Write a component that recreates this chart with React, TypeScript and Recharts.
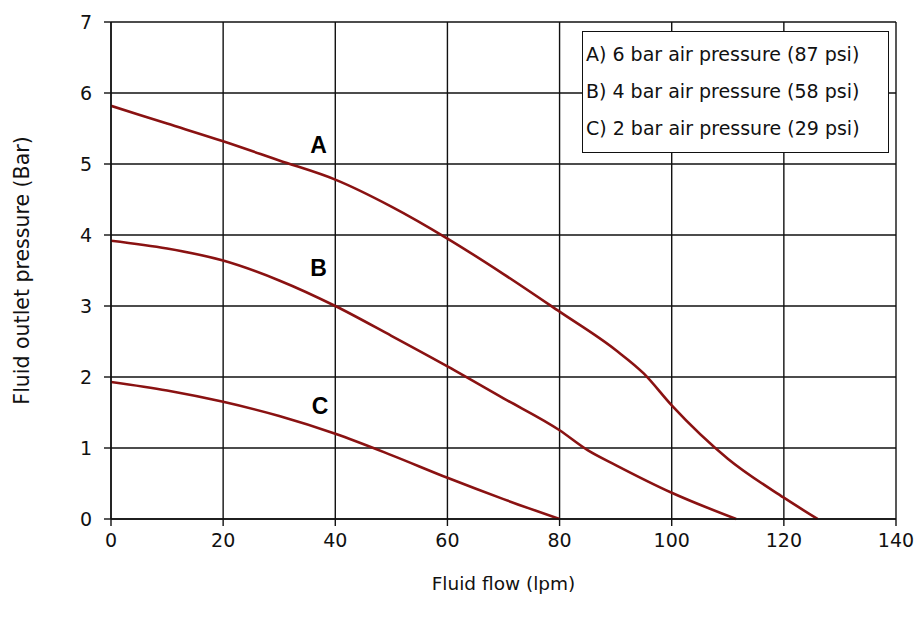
import { CartesianGrid, Line, LineChart, ReferenceDot, XAxis, YAxis } from "recharts";

const X_TICKS = [0, 20, 40, 60, 80, 100, 120, 140];
const Y_TICKS = [0, 1, 2, 3, 4, 5, 6, 7];

// curve A - 6 bar air pressure
const FLOW_A = [0, 10, 20, 30, 40, 50, 60, 70, 80, 90, 95, 100, 110, 120, 126];
const PRESS_A = [5.82, 5.57, 5.32, 5.05, 4.78, 4.4, 3.95, 3.45, 2.92, 2.38, 2.05, 1.6, 0.85, 0.3, 0];

// curve B - 4 bar air pressure
const FLOW_B = [0, 10, 20, 30, 40, 50, 60, 70, 80, 85, 90, 100, 111.5];
const PRESS_B = [3.92, 3.81, 3.64, 3.36, 3.0, 2.58, 2.15, 1.7, 1.25, 0.97, 0.76, 0.37, 0];

// curve C - 2 bar air pressure
const FLOW_C = [0, 10, 20, 30, 40, 50, 60, 70, 80];
const PRESS_C = [1.93, 1.81, 1.65, 1.45, 1.2, 0.9, 0.58, 0.28, 0];

const LEGEND_ITEMS = [
  "A) 6 bar air pressure (87 psi)",
  "B) 4 bar air pressure (58 psi)",
  "C) 2 bar air pressure (29 psi)",
];

const CURVE_LABELS = [
  { name: "A", x: 37, y: 5.27 },
  { name: "B", x: 37, y: 3.54 },
  { name: "C", x: 37.3, y: 1.6 },
];

const toPoints = (xs: number[], ys: number[]) => xs.map((x, i) => ({ flow: x, pressure: ys[i] }));

const LINE_COLOR = "#8a1212";
const FONT = "'DejaVu Sans', Arial, sans-serif";

function LegendBox() {
  return (
    <div
      style={{
        position: "absolute",
        left: 582,
        top: 31,
        border: "1.5px solid #111",
        background: "#fff",
        width: 307,
        height: 122,
        boxSizing: "border-box",
        padding: "7px 0 0 3px",
        fontFamily: FONT,
        fontSize: 19,
        color: "#111",
      }}
    >
      {LEGEND_ITEMS.map((t) => (
        <div key={t} style={{ height: 37, lineHeight: "30px", whiteSpace: "nowrap" }}>
          {t}
        </div>
      ))}
    </div>
  );
}

export default function App() {
  return (
    <div style={{ position: "absolute", left: 0, top: 0, width: 923, height: 626, background: "#fff" }}>
      <LineChart width={923} height={626} margin={{ top: 22, right: 27, bottom: 0, left: 0 }}>
        <CartesianGrid stroke="#111" strokeWidth={1.4} />
        <XAxis
          type="number"
          dataKey="flow"
          domain={[0, 140]}
          ticks={X_TICKS}
          allowDataOverflow
          height={107}
          tickSize={7}
          tickMargin={8}
          stroke="#111"
          strokeWidth={1.4}
          tick={{ fontSize: 19, fill: "#111", fontFamily: FONT }}
          label={{
            value: "Fluid flow (lpm)",
            position: "insideBottom",
            offset: 36,
            style: { fontSize: 18.5, fill: "#111", fontFamily: FONT },
          }}
        />
        <YAxis
          type="number"
          dataKey="pressure"
          domain={[0, 7]}
          ticks={Y_TICKS}
          width={111}
          tickSize={7}
          tickMargin={12}
          stroke="#111"
          strokeWidth={1.4}
          tick={{ fontSize: 19, fill: "#111", fontFamily: FONT }}
          label={{
            value: "Fluid outlet pressure (Bar)",
            angle: -90,
            position: "insideLeft",
            offset: 22,
            style: { fontSize: 20.5, fill: "#111", fontFamily: FONT, textAnchor: "middle" },
          }}
        />
        <Line
          data={toPoints(FLOW_A, PRESS_A)}
          dataKey="pressure"
          type="monotone"
          stroke={LINE_COLOR}
          strokeWidth={2.6}
          dot={false}
          isAnimationActive={false}
        />
        <Line
          data={toPoints(FLOW_B, PRESS_B)}
          dataKey="pressure"
          type="monotone"
          stroke={LINE_COLOR}
          strokeWidth={2.6}
          dot={false}
          isAnimationActive={false}
        />
        <Line
          data={toPoints(FLOW_C, PRESS_C)}
          dataKey="pressure"
          type="monotone"
          stroke={LINE_COLOR}
          strokeWidth={2.6}
          dot={false}
          isAnimationActive={false}
        />
        {CURVE_LABELS.map((c) => (
          <ReferenceDot
            key={c.name}
            x={c.x}
            y={c.y}
            r={0}
            stroke="none"
            label={{
              value: c.name,
              position: "center",
              style: { fontSize: 23, fontWeight: "bold", fill: "#000", fontFamily: "Arial, 'Liberation Sans', sans-serif" },
            }}
          />
        ))}
      </LineChart>
      <LegendBox />
    </div>
  );
}
